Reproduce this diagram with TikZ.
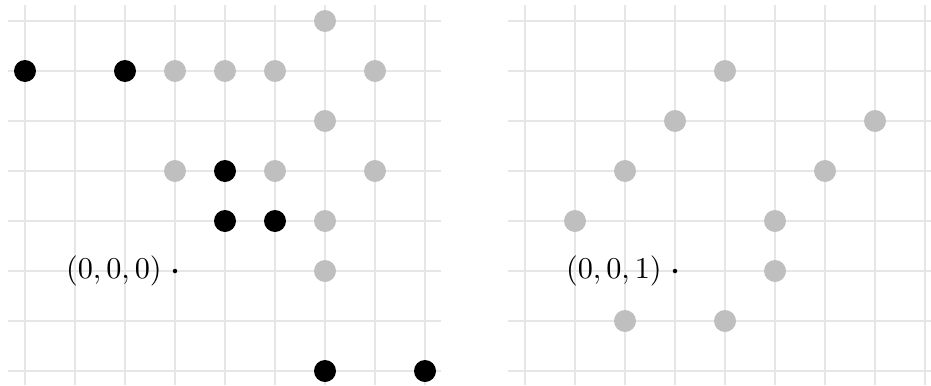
\documentclass[tikz,border=0pt]{standalone}
\usepackage{amsmath}
\usetikzlibrary{positioning}
\definecolor{gridgray}{RGB}{230,230,230}
\definecolor{ptgray}{RGB}{191,191,191}

\begin{document}
\begin{tikzpicture}[
  lattice/.style={draw=gridgray, line width=0.6pt},
  hit/.style={circle, fill=black, inner sep=0pt, minimum size=0.44cm},
  miss/.style={circle, fill=ptgray, inner sep=0pt, minimum size=0.44cm},
  base/.style={circle, fill=black, inner sep=0pt, minimum size=0.09cm},
  coordlabel/.style={scale=1.72, inner sep=1pt}
]
\useasboundingbox (-3.5,-2.28) rectangle (15.12,5.42);

% layer z = 0
\foreach \y in {-2,...,5} \draw[lattice] (-3.34,\y) -- (5.32,\y);
\foreach \x in {-3,...,5} \draw[lattice] (\x,-2.28) -- (\x,5.32);

\node[miss] (g1) at (3,5) {};
\node[hit]  (k1) at (-3,4) {};
\node[hit]  (k2) at (-1,4) {};
\node[miss] (g2) at (0,4) {};
\node[miss] (g3) at (1,4) {};
\node[miss] (g4) at (2,4) {};
\node[miss] (g5) at (4,4) {};
\node[miss] (g6) at (3,3) {};
\node[miss] (g7) at (0,2) {};
\node[hit]  (k3) at (1,2) {};
\node[miss] (g8) at (2,2) {};
\node[miss] (g9) at (4,2) {};
\node[hit]  (k4) at (1,1) {};
\node[hit]  (k5) at (2,1) {};
\node[miss] (g10) at (3,1) {};
\node[miss] (g11) at (3,0) {};
\node[hit]  (k6) at (3,-2) {};
\node[hit]  (k7) at (5,-2) {};

\node[base] (o0) at (0,0) {};
\node[coordlabel, left=4pt of o0] (t0) {$(0,0,0)$};

% layer z = 1
\begin{scope}[xshift=10cm]
\foreach \y in {-2,...,5} \draw[lattice] (-3.34,\y) -- (5.12,\y);
\foreach \x in {-3,...,5} \draw[lattice] (\x,-2.28) -- (\x,5.32);

\node[miss] (h1) at (1,4) {};
\node[miss] (h2) at (0,3) {};
\node[miss] (h3) at (4,3) {};
\node[miss] (h4) at (-1,2) {};
\node[miss] (h5) at (3,2) {};
\node[miss] (h6) at (-2,1) {};
\node[miss] (h7) at (2,1) {};
\node[miss] (h8) at (2,0) {};
\node[miss] (h9) at (-1,-1) {};
\node[miss] (h10) at (1,-1) {};

\node[base] (o1) at (0,0) {};
\node[coordlabel, left=4pt of o1] (t1) {$(0,0,1)$};
\end{scope}
\end{tikzpicture}
\end{document}
